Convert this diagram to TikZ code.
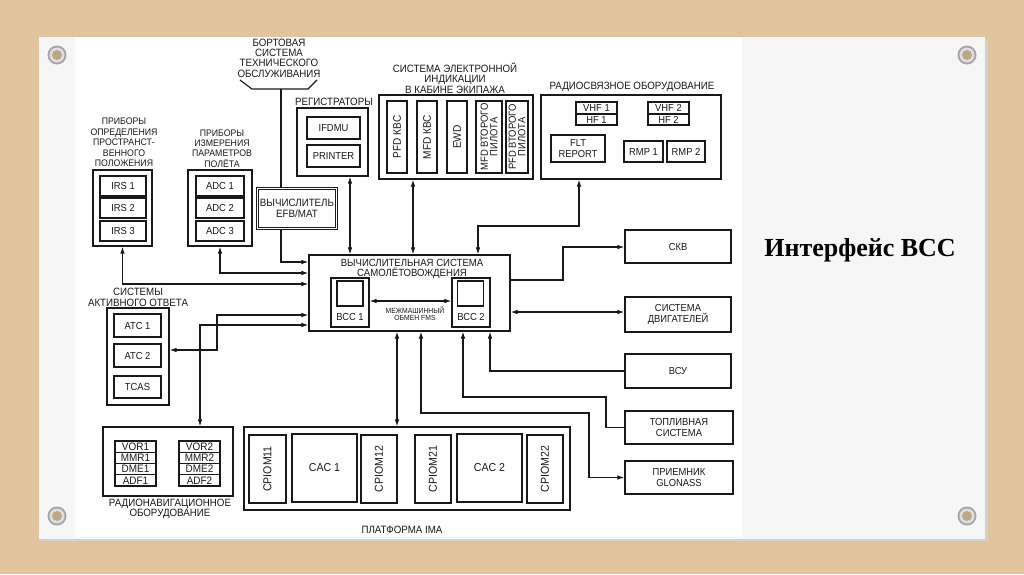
\documentclass[tikz,border=0pt]{standalone}
\usepackage{fontspec}
\setmainfont{Liberation Sans}[FakeStretch=0.92]
\newfontfamily\titlefont{Liberation Serif}
\usetikzlibrary{arrows.meta}
\definecolor{wood}{RGB}{223,196,158}
\definecolor{slide}{RGB}{246,246,246}
\definecolor{ink}{RGB}{25,25,25}
\newcommand{\capfont}{\fontsize{10.6}{10.4}\selectfont}
\newcommand{\narrowcap}{\fontsize{9.5}{10.4}\selectfont}
\newcommand{\unitfont}{\fontsize{10.2}{10.2}\selectfont}
\newcommand{\imafont}{\fontsize{11.5}{12}\selectfont}
\newcommand{\smallfnt}{\fontsize{7.4}{7.5}\selectfont}
\begin{document}
\begin{tikzpicture}[x=1pt, y=-1pt,
    >={Latex[length=7pt,width=4.6pt]},
    group/.style={draw=ink, line width=1.2pt, inner sep=0pt},
    unit/.style={draw=ink, line width=1.3pt, inner sep=0pt, align=center, font=\unitfont, text=ink},
    vert/.style={unit, rotate=90},
    navunit/.style={unit, minimum width=41, minimum height=11.25, font=\fontsize{10.8}{10}\selectfont},
    lbl/.style={align=center, font=\capfont, inner sep=0pt, text=ink},
    link/.style={draw=ink, line width=1.1pt},
    both/.style={link, <->},
    into/.style={link, ->}
]
% slide
\fill[wood] (0,0) rectangle (1024,574);
\fill[black!18] (41,40) rectangle (988,541);
\fill[slide] (39,37) rectangle (985,539);
\fill[white] (75,37) rectangle (742,537);
\foreach \sx/\sy in {57/55, 967/55, 57/516, 967/516} {
    \fill[gray!70] (\sx,\sy) circle (9.5);
    \fill[gray!25] (\sx,\sy) circle (7.5);
    \fill[wood!85!black] (\sx,\sy) circle (5);
}
\node[font=\titlefont\bfseries\fontsize{26}{30}\selectfont] (title) at (860,250) {Интерфейс ВСС};

% maintenance system
\node[lbl] (btslbl) at (279,58) {БОРТОВАЯ\\СИСТЕМА\\ТЕХНИЧЕСКОГО\\ОБСЛУЖИВАНИЯ};
\draw[link] (240,80) -- (252,89) -- (308,89) -- (317,80);
\coordinate (btsb) at (281,89);

% attitude sensors
\node[lbl, font=\narrowcap] (irslbl) at (124,142.5) {ПРИБОРЫ\\ОПРЕДЕЛЕНИЯ\\ПРОСТРАНСТ-\\ВЕННОГО\\ПОЛОЖЕНИЯ};
\node[group, minimum width=59, minimum height=76] (irs) at (122.5,208) {};
\node[unit, minimum width=46, minimum height=20] (irs1) at (123,186) {IRS 1};
\node[unit, minimum width=46, minimum height=20] (irs2) at (123,208) {IRS 2};
\node[unit, minimum width=46, minimum height=20] (irs3) at (123,231) {IRS 3};

% air data
\node[lbl, font=\narrowcap] (adclbl) at (222,148.5) {ПРИБОРЫ\\ИЗМЕРЕНИЯ\\ПАРАМЕТРОВ\\ПОЛЁТА};
\node[group, minimum width=64, minimum height=76] (adc) at (220,208) {};
\node[unit, minimum width=48, minimum height=20] (adc1) at (220,186) {ADC 1};
\node[unit, minimum width=48, minimum height=20] (adc2) at (220,208) {ADC 2};
\node[unit, minimum width=48, minimum height=20] (adc3) at (220,231) {ADC 3};

% EFB
\node[unit, font=\fontsize{10.6}{10.6}\selectfont, double, double distance=1.6pt, line width=0.8pt, minimum width=79, minimum height=40] (efb) at (297,208.5) {ВЫЧИСЛИТЕЛЬ\\EFB/MAT};

% recorders
\node[lbl] (reglbl) at (334,102) {РЕГИСТРАТОРЫ};
\node[group, minimum width=71, minimum height=68] (reg) at (332.5,142) {};
\node[unit, minimum width=53, minimum height=22] (ifdmu) at (333.5,128) {IFDMU};
\node[unit, minimum width=53, minimum height=22] (printer) at (333.5,156) {PRINTER};

% displays
\node[lbl] (displbl) at (455,78) {СИСТЕМА ЭЛЕКТРОННОЙ\\ИНДИКАЦИИ\\В КАБИНЕ ЭКИПАЖА};
\node[group, minimum width=154, minimum height=84] (disp) at (456,137) {};
\node[vert, font=\fontsize{11}{11}\selectfont, minimum width=72, minimum height=20] (pfd1) at (397,137) {PFD КВС};
\node[vert, font=\fontsize{11}{11}\selectfont, minimum width=72, minimum height=20] (mfd1) at (427,137) {MFD КВС};
\node[vert, font=\fontsize{11}{11}\selectfont, minimum width=72, minimum height=20] (ewd) at (457,137) {EWD};
\node[vert, font=\fontsize{10.3}{9.6}\selectfont, minimum width=72, minimum height=26] (mfd2) at (489,137) {MFD ВТОРОГО\\ПИЛОТА};
\node[vert, font=\fontsize{10.3}{9.6}\selectfont, minimum width=72, minimum height=22] (pfd2) at (517,137) {PFD ВТОРОГО\\ПИЛОТА};

% radio
\node[lbl] (radiolbl) at (632,87) {РАДИОСВЯЗНОЕ ОБОРУДОВАНИЕ};
\node[group, minimum width=180, minimum height=84] (radio) at (631,137) {};
\node[unit, minimum width=41, minimum height=12] (vhf1) at (596.5,108) {VHF 1};
\node[unit, minimum width=41, minimum height=11] (hf1) at (596.5,119.5) {HF 1};
\node[unit, minimum width=41, minimum height=12] (vhf2) at (668.5,108) {VHF 2};
\node[unit, minimum width=41, minimum height=11] (hf2) at (668.5,119.5) {HF 2};
\node[unit, minimum width=54, minimum height=27] (flt) at (578,148.5) {FLT\\REPORT};
\node[unit, minimum width=39, minimum height=21] (rmp1) at (643.5,151.5) {RMP 1};
\node[unit, minimum width=38, minimum height=21] (rmp2) at (686,151.5) {RMP 2};

% flight management system
\node[group, minimum width=201, minimum height=76] (vs) at (409.5,293) {};
\node[lbl, font=\fontsize{10.4}{9.8}\selectfont] (vslbl) at (412,268.5) {ВЫЧИСЛИТЕЛЬНАЯ СИСТЕМА\\САМОЛЁТОВОЖДЕНИЯ};
\node[group, minimum width=38, minimum height=49] (bcc1) at (350,302.5) {};
\node[group, minimum width=26, minimum height=25] (scr1) at (350,293.5) {};
\node[lbl, font=\unitfont] (bcc1lbl) at (350,317) {ВСС 1};
\node[group, minimum width=38, minimum height=49] (bcc2) at (471,302.5) {};
\node[group, minimum width=26, minimum height=25] (scr2) at (470.5,293.5) {};
\node[lbl, font=\unitfont] (bcc2lbl) at (471,317) {ВСС 2};
\node[lbl, font=\smallfnt] (fmslbl) at (415,313.5) {МЕЖМАШИННЫЙ\\ОБМЕН FMS};

% aircraft systems
\node[unit, minimum width=106, minimum height=33] (skv) at (678,246.5) {СКВ};
\node[unit, minimum width=106, minimum height=35] (eng) at (678,314.5) {СИСТЕМА\\ДВИГАТЕЛЕЙ};
\node[unit, minimum width=106, minimum height=34] (apu) at (678,371) {ВСУ};
\node[unit, minimum width=108, minimum height=33] (fuel) at (679,427.5) {ТОПЛИВНАЯ\\СИСТЕМА};
\node[unit, minimum width=108, minimum height=33] (glon) at (679,477.5) {ПРИЕМНИК\\GLONASS};

% transponders
\node[lbl] (atclbl) at (138,297.5) {СИСТЕМЫ\\АКТИВНОГО ОТВЕТА};
\node[group, minimum width=62, minimum height=97] (atc) at (138,356.5) {};
\node[unit, minimum width=47, minimum height=23] (atc1) at (137.5,325.5) {ATC 1};
\node[unit, minimum width=47, minimum height=23] (atc2) at (137.5,355.5) {ATC 2};
\node[unit, minimum width=47, minimum height=22] (tcas) at (137.5,387) {TCAS};

% radio navigation
\node[group, minimum width=130, minimum height=69] (nav) at (168,461.5) {};
\node[navunit] (vor1) at (135.5,446.6) {VOR1};
\node[navunit] (mmr1) at (135.5,457.9) {MMR1};
\node[navunit] (dme1) at (135.5,469.1) {DME1};
\node[navunit] (adf1) at (135.5,480.4) {ADF1};
\node[navunit] (vor2) at (199.5,446.6) {VOR2};
\node[navunit] (mmr2) at (199.5,457.9) {MMR2};
\node[navunit] (dme2) at (199.5,469.1) {DME2};
\node[navunit] (adf2) at (199.5,480.4) {ADF2};
\node[lbl] (navlbl) at (170,509) {РАДИОНАВИГАЦИОННОЕ\\ОБОРУДОВАНИЕ};

% IMA
\node[group, minimum width=326, minimum height=83] (ima) at (407,468.5) {};
\node[vert, font=\imafont, minimum width=68, minimum height=37] (cpiom11) at (267.5,469) {CPIOM11};
\node[unit, font=\imafont, minimum width=65, minimum height=68] (cac1) at (324.5,468) {CAC 1};
\node[vert, font=\imafont, minimum width=68, minimum height=36] (cpiom12) at (379,469) {CPIOM12};
\node[vert, font=\imafont, minimum width=68, minimum height=36] (cpiom21) at (433,469) {CPIOM21};
\node[unit, font=\imafont, minimum width=65, minimum height=68] (cac2) at (489.5,468) {CAC 2};
\node[vert, font=\imafont, minimum width=68, minimum height=36] (cpiom22) at (545,469) {CPIOM22};
\node[lbl] (imalbl) at (402,530) {ПЛАТФОРМА IMA};

% connections
\draw[link] (btsb) -- (btsb |- efb.north);
\draw[into] (efb.south -| btsb) |- (vs.west |- 0,262);
\draw[both] (adc.south) |- (vs.west |- 0,273);
\draw[both] (irs.south) |- (vs.west |- 0,284);
\draw[both] (reg.south -| 350,0) -- (vs.north -| 350,0);
\draw[both] (disp.south -| 413,0) -- (vs.north -| 413,0);
\draw[both] (radio.south -| 579,0) -- (579,226) -| (vs.north -| 478,0);
\draw[into] (vs.east |- 0,280) -| (563,247) -- (skv.west |- 0,247);
\draw[both] (vs.east |- 0,312) -- (eng.west |- 0,312);
\draw[into] (apu.west) -| (vs.south -| 490,0);
\draw[into] (fuel.west) -| (606,397) -| (vs.south -| 463,0);
\draw[both] (glon.west) -| (589,413) -| (vs.south -| 421,0);
\draw[both] (vs.south -| 397,0) -- (ima.north -| 397,0);
\draw[both] (atc.east |- 0,350) -| (217,315) -- (vs.west |- 0,315);
\draw[both] (nav.north -| 200,0) |- (vs.west |- 0,325);
\draw[both] (bcc1.east |- 0,301) -- (bcc2.west |- 0,301);
\end{tikzpicture}
\end{document}
